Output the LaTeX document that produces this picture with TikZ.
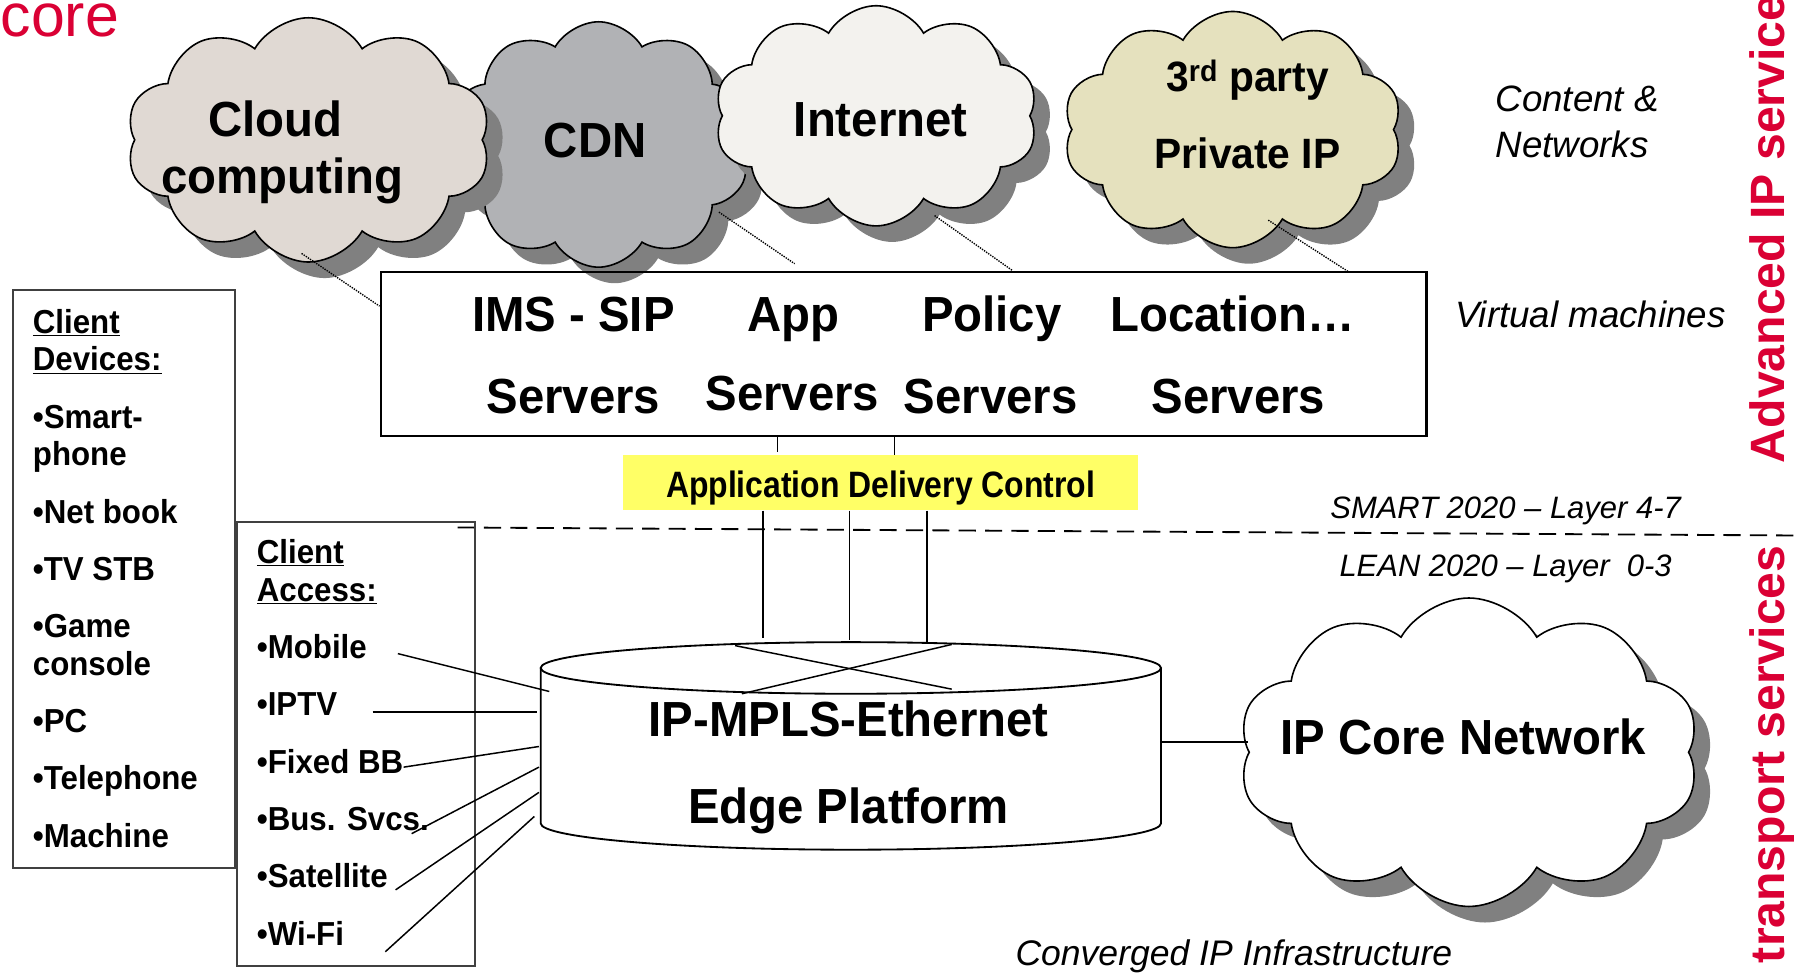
\documentclass[tikz,border=0pt]{standalone}
\usepackage{fontspec}
\setmainfont{Liberation Sans}
\newfontfamily\bigsf[FakeStretch=0.96]{Liberation Sans}
\newfontfamily\adcsf[FakeStretch=0.87]{Liberation Sans}
\newfontfamily\listsf[FakeStretch=0.94]{Liberation Sans}
\usetikzlibrary{shapes.symbols,shadows}
\definecolor{ipred}{RGB}{218,0,52}
\definecolor{ccfill}{RGB}{224,217,211}
\definecolor{cdnfill}{RGB}{177,178,181}
\definecolor{netfill}{RGB}{243,242,238}
\definecolor{tpfill}{RGB}{229,225,190}
\definecolor{adcfill}{RGB}{255,255,102}
\definecolor{boxgray}{RGB}{64,64,64}
\tikzset{
  cloudnode/.style={cloud, cloud puffs=10, cloud puff arc=120, cloud ignores aspect, draw, line width=1.4pt, inner sep=0pt,
    drop shadow={shadow xshift=14pt, shadow yshift=-14pt, fill=black!50, opacity=1}},
  bigtxt/.style={font=\bigsf\bfseries\fontsize{43}{50}\selectfont, anchor=base, inner sep=0pt},
  listtxt/.style={font=\listsf\bfseries\fontsize{29}{32.7}\selectfont, align=left, anchor=north west, inner sep=0pt},
  itxt/.style={font=\itshape\fontsize{32}{40}\selectfont, anchor=base, inner sep=0pt},
  listbox/.style={draw=boxgray, line width=1.8pt, inner sep=0pt},
  link/.style={line width=1.3pt},
  dots/.style={densely dotted, line width=1.2pt},
  vtxt/.style={text=ipred, font=\bfseries\fontsize{42}{42}\selectfont, rotate=90, anchor=base west, inner sep=0pt}
}
\begin{document}
\begin{tikzpicture}[x=1pt, y=-1pt]
	\useasboundingbox (0,0) rectangle (1568,849);
	\node[text=ipred, font=\fontsize{53}{53}\selectfont, anchor=base east, inner sep=0pt] (coretitle) at (104,32) {core};
	\node[vtxt] (advip) at (1556,404) {Advanced IP service};
	\node[vtxt] (transp) at (1556,840) {transport services};

	\node[cloudnode, fill=cdnfill, minimum width=265pt, minimum height=214pt] (cdn) at (522,126) {};
	\node[cloudnode, fill=ccfill, minimum width=318pt, minimum height=213pt] (cc) at (269,122) {};
	\node[cloudnode, fill=netfill, minimum width=282pt, minimum height=192pt] (inet) at (764,101) {};
	\node[cloudnode, fill=tpfill, minimum width=296pt, minimum height=206pt] (third) at (1075,113) {};
	\node[cloudnode, fill=white, minimum width=402pt, minimum height=269pt] (ipcore) at (1281,656) {};

	\node[bigtxt] (cctxt) at (240,119) {Cloud};
	\node[bigtxt] (cctxt2) at (246,169) {computing};
	\node[bigtxt] (cdntxt) at (519,137) {CDN};
	\node[bigtxt] (inettxt) at (768,119) {Internet};
	\node[bigtxt, font=\bigsf\bfseries\fontsize{37}{40}\selectfont] (thirdtxt) at (1088,80) {3\textsuperscript{rd} party};
	\node[bigtxt, font=\bigsf\bfseries\fontsize{37}{40}\selectfont] (thirdtxt2) at (1088,147) {Private IP};
	\node[bigtxt] (coretxt) at (1276,658) {IP Core Network};

	\foreach \n/\ax/\ay/\bx/\by in {cc/263/221/331/267, cdn/627/185/693/230, inet/815/188/883/236, third/1106/192/1176/237} {
		\coordinate (\n-a) at (\ax,\ay);
		\coordinate (\n-b) at (\bx,\by);
		\draw[dots] (\n-a) -- (\n-b);
	}

	\node[draw, line width=2pt, minimum width=912pt, minimum height=143pt, inner sep=0pt] (srv) at (788,308.5) {};
	\foreach \x/\t/\n in {500/IMS - SIP/ims, 692/App/app, 865/Policy/pol, 1075/Location…/loc}
		\node[bigtxt] (\n) at (\x,289) {\t};
	\foreach \x/\y/\n in {500/361/ims, 691/358/app, 864/361/pol, 1080/361/loc}
		\node[bigtxt] (\n-srv) at (\x,\y) {Servers};

	\node[fill=adcfill, minimum width=449pt, minimum height=48pt, inner sep=0pt] (adc) at (767.5,421) {};
	\node[font=\adcsf\bfseries\fontsize{32}{32}\selectfont, anchor=base, inner sep=0pt] (adctxt) at (768,434) {Application Delivery Control};
	\coordinate (t1) at (678,394);
	\coordinate (t2) at (780,397);
	\draw[link] (t1 |- srv.south) -- (t1);
	\draw[link] (t2 |- srv.south) -- (t2);

	\coordinate (smartl) at (399,460);
	\coordinate (smartr) at (1568,467);
	\draw[dash pattern=on 15pt off 8pt, line width=1.6pt] (smartl) -- (smartr);

	\node[listbox, minimum width=194pt, minimum height=504pt] (devbox) at (108,505) {};
	\node[listtxt] (devlist) at (28.5,269.5) {\underline{Client}\\\underline{Devices:}\\[17.3pt]•Smart-\\phone\\[17.3pt]•Net book\\[17.3pt]•TV STB\\[17.3pt]•Game\\console\\[17.3pt]•PC\\[17.3pt]•Telephone\\[17.3pt]•Machine};
	\node[listbox, minimum width=208pt, minimum height=387pt] (accbox) at (310.3,649) {};
	\node[listtxt] (acclist) at (223.8,470.2) {\underline{Client}\\\underline{Access:}\\[17.3pt]•Mobile\\[17.3pt]•IPTV\\[17.3pt]•Fixed BB\\[17.3pt]•Bus. Svcs.\\[17.3pt]•Satellite\\[17.3pt]•Wi-Fi};

	\foreach \n/\x/\y in {v1/665.6/556, v2/740.6/558, v3/808.2/560} {
		\coordinate (\n) at (\x,\y);
		\draw[link] (\n |- adc.south) -- (\n);
	}
	\draw[line width=1.6pt] (471.5,582.5) -- (471.5,718) arc[start angle=180, end angle=0, x radius=270.5, y radius=23] -- (1012.5,582.5);
	\draw[line width=1.6pt] (742,582.5) ellipse [x radius=270.5, y radius=22.5];
	\draw[link] (641,563) -- (830,601);
	\draw[link] (647,605) -- (830,562);
	\node[bigtxt] (edgetxt) at (740,642) {IP-MPLS-Ethernet};
	\node[bigtxt] (edgetxt2) at (740,718) {Edge Platform};
	\coordinate (cylr) at (1012.5,647);
	\draw[link] (cylr) -- (cylr -| ipcore.west);

	\foreach \n/\ax/\ay/\bx/\by in {mob/347/570/479/603, iptv/325/621/468/621, fbb/352/669/470/651, bus/359/727/470/669, sat/345/776/470/691, wifi/336/830/466/712} {
		\coordinate (\n-a) at (\ax,\ay);
		\coordinate (\n-b) at (\bx,\by);
		\draw[link] (\n-a) -- (\n-b);
	}

	\node[itxt, anchor=base west] (content) at (1304,97) {Content \&};
	\node[itxt, anchor=base west] (networks) at (1304,137) {Networks};
	\node[itxt] (vm) at (1387,286) {Virtual machines};
	\node[itxt, font=\itshape\fontsize{27}{27}\selectfont] (smart) at (1313,452) {SMART 2020 – Layer 4-7};
	\node[itxt, font=\itshape\fontsize{27}{27}\selectfont] (lean) at (1313,503) {LEAN 2020 – Layer~~0-3};
	\node[itxt, font=\itshape\fontsize{31}{31}\selectfont] (conv) at (1076,842) {Converged IP Infrastructure};
\end{tikzpicture}
\end{document}
